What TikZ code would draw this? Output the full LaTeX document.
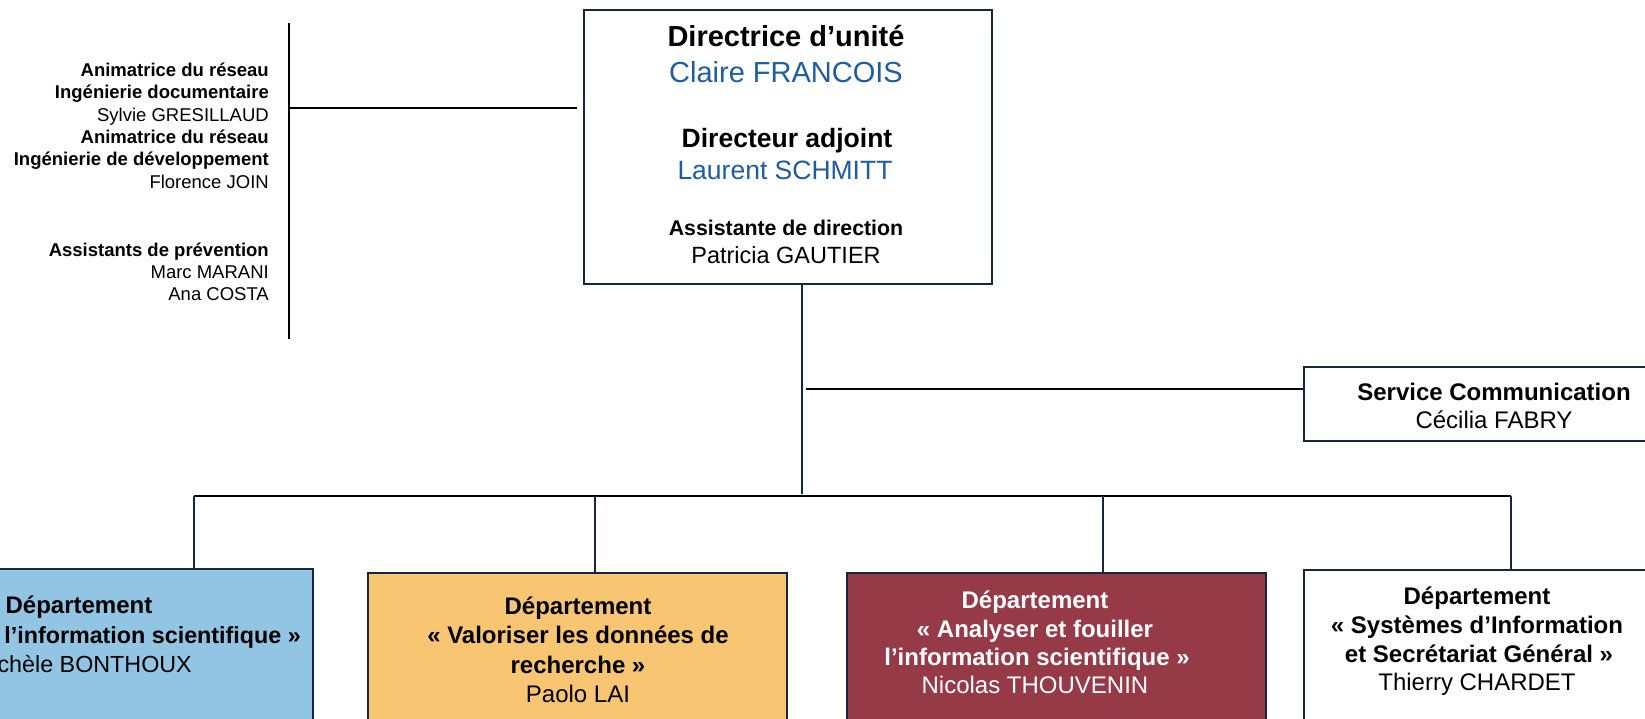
\documentclass[tikz,border=0pt]{standalone}
\usepackage{fontspec}
\setmainfont{Liberation Sans}
\definecolor{navy}{RGB}{23,37,61}
\definecolor{nameblue}{RGB}{31,93,160}
\definecolor{dblue}{RGB}{146,197,227}
\definecolor{dorange}{RGB}{248,197,114}
\definecolor{dred}{RGB}{151,58,72}
\begin{document}
\begin{tikzpicture}[x=1pt,y=-1pt,
  box/.style={draw=navy, line width=2.5pt, rectangle, inner sep=0pt},
  conn/.style={draw=navy, line width=2pt},
  blk/.style={draw=black, line width=2pt},
  txt/.style={anchor=base, inner sep=0pt},
  ltxt/.style={anchor=base east, inner sep=0pt},
  fL/.style={font=\fontsize{18.5pt}{22pt}\selectfont},
  fLb/.style={font=\fontsize{18.5pt}{22pt}\selectfont\bfseries},
  fD/.style={font=\fontsize{24pt}{28pt}\selectfont},
  fDb/.style={font=\fontsize{24pt}{28pt}\selectfont\bfseries},
]
\clip (0,0) rectangle (1645,719);
\fill[white] (0,0) rectangle (1645,719);

% boxes
\node[box, fill=white, minimum width=408pt, minimum height=274pt] (dir) at (788,147) {};
\node[box, fill=white, minimum width=396pt, minimum height=74pt] (svc) at (1502,404) {};
\node[box, fill=dblue, minimum width=419pt, minimum height=231pt] (d1) at (103.5,684.5) {};
\node[box, fill=dorange, minimum width=419pt, minimum height=227pt] (d2) at (577.5,686.5) {};
\node[box, fill=dred, minimum width=419pt, minimum height=227pt] (d3) at (1056.5,686.5) {};
\node[box, fill=white, minimum width=419pt, minimum height=230pt] (d4) at (1513.5,685) {};

% connectors
\coordinate (lvtop) at (289,23);
\coordinate (lvbot) at (289,339);
\coordinate (lh) at (289,108);
\draw[blk] (lvtop) -- (lvbot);
\draw[blk] (lh) -- ([xshift=-6pt]dir.west |- lh);

\coordinate (hub) at (802,494);
\draw[conn] (dir.south -| hub) -- (hub);
\coordinate (sv) at (806,389);
\draw[blk] (sv) -- (svc.west |- sv);

\coordinate (busL) at (194,496);
\coordinate (b2) at (595,496);
\coordinate (b3) at (1103,496);
\coordinate (busR) at (1511,496);
\draw[blk] (busL) -- (busR);
\draw[conn] (busL) -- (busL |- d1.north);
\draw[conn] (b2) -- (b2 |- d2.north);
\draw[conn] (b3) -- (b3 |- d3.north);
\draw[conn] (busR) -- (busR |- d4.north);

% top box text
\node[txt, font=\fontsize{29pt}{33pt}\selectfont\bfseries] (t1) at (786,47) {Directrice d’unité};
\node[txt, text=nameblue, font=\fontsize{29pt}{33pt}\selectfont] (t2) at (786,83) {Claire FRANCOIS};
\node[txt, font=\fontsize{26.5pt}{30pt}\selectfont\bfseries] (t3) at (787,148) {Directeur adjoint};
\node[txt, text=nameblue, font=\fontsize{26.5pt}{30pt}\selectfont] (t4) at (785,180) {Laurent SCHMITT};
\node[txt, font=\fontsize{21.3pt}{25pt}\selectfont\bfseries] (t5) at (786,236) {Assistante de direction};
\node[txt, font=\fontsize{23.5pt}{27pt}\selectfont] (t6) at (786,263) {Patricia GAUTIER};

% left texts
\node[ltxt, fLb] (l1) at (269,77) {Animatrice du réseau};
\node[ltxt, fLb] (l2) at (269,99) {Ingénierie documentaire};
\node[ltxt, fL] (l3) at (269,122) {Sylvie GRESILLAUD};
\node[ltxt, fLb] (l4) at (269,144) {Animatrice du réseau};
\node[ltxt, fLb] (l5) at (269,166) {Ingénierie de développement};
\node[ltxt, fL] (l6) at (269,189) {Florence JOIN};
\node[ltxt, fLb] (l7) at (269,256) {Assistants de prévention};
\node[ltxt, fL] (l8) at (269,278) {Marc MARANI};
\node[ltxt, fL] (l9) at (269,300) {Ana COSTA};

% service
\node[txt, fDb] (s1) at (1494,400) {Service Communication};
\node[txt, fD] (s2) at (1494,428) {Cécilia FABRY};

% dept 1
\node[txt, fDb] (a1) at (79,613) {Département};
\node[ltxt, font=\fontsize{23.3pt}{28pt}\selectfont\bfseries] (a2) at (301,643) {l’information scientifique »};
\node[ltxt, font=\fontsize{23.3pt}{28pt}\selectfont] (a3) at (192,672) {chèle BONTHOUX};

% dept 2
\node[txt, fDb] (b21) at (578,614) {Département};
\node[txt, fDb] (b22) at (578,643) {« Valoriser les données de};
\node[txt, fDb] (b23) at (578,673) {recherche »};
\node[txt, fD] (b24) at (578,702) {Paolo LAI};

% dept 3
\node[txt, fDb, text=white] (c1) at (1035,608) {Département};
\node[txt, fDb, text=white] (c2) at (1035,637) {« Analyser et fouiller};
\node[txt, fDb, text=white] (c3) at (1037,665) {l’information scientifique »};
\node[txt, fD, text=white] (c4) at (1035,693) {Nicolas THOUVENIN};

% dept 4
\node[txt, fDb] (e1) at (1477,604) {Département};
\node[txt, fDb] (e2) at (1477,633) {« Systèmes d’Information};
\node[txt, fDb] (e3) at (1479,662) {et Secrétariat Général »};
\node[txt, fD] (e4) at (1477,690) {Thierry CHARDET};
\end{tikzpicture}
\end{document}
